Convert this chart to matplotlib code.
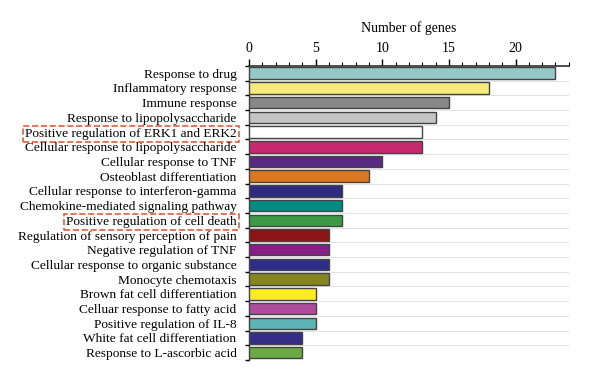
import matplotlib
matplotlib.use("Agg")
import matplotlib.pyplot as plt
import numpy as np
from matplotlib.ticker import MultipleLocator, FixedLocator, NullFormatter

categories = [
    "Response to drug",
    "Inflammatory response",
    "Immune response",
    "Response to lipopolysaccharide",
    "Positive regulation of ERK1 and ERK2",
    "Cellular response to lipopolysaccharide",
    "Cellular response to TNF",
    "Osteoblast differentiation",
    "Cellular response to interferon-gamma",
    "Chemokine-mediated signaling pathway",
    "Positive regulation of cell death",
    "Regulation of sensory perception of pain",
    "Negative regulation of TNF",
    "Cellular response to organic substance",
    "Monocyte chemotaxis",
    "Brown fat cell differentiation",
    "Celluar response to fatty acid",
    "Positive regulation of IL-8",
    "White fat cell differentiation",
    "Response to L-ascorbic acid",
]
values = [23, 18, 15, 14, 13, 13, 10, 9, 7, 7, 7, 6, 6, 6, 6, 5, 5, 5, 4, 4]
colors = ["#96c8c8", "#f5ea7a", "#888888", "#c4c4c4", "#ffffff", "#c8286e",
          "#5a2a82", "#dc7820", "#2e2a80", "#008c84", "#3c9a46", "#8c1414",
          "#861e86", "#2e2e88", "#86861e", "#ffec20", "#b04c9c", "#5cb4b4",
          "#362c8a", "#6aaa44"]
highlighted = ["Positive regulation of ERK1 and ERK2", "Positive regulation of cell death"]
x_ticks = [0, 5, 10, 15, 20]

plt.rcParams['font.family'] = ['Liberation Serif', 'DejaVu Serif']

fig = plt.figure(figsize=(6, 3.83), dpi=100)
ax = fig.add_axes([0.415, 0.06, 0.533, 0.768])

n = len(categories)
y = np.arange(n)
ax.barh(y, values, height=0.78, color=colors, edgecolor="#444444", linewidth=1.0, zorder=3)

ax.set_ylim(n - 0.5, -0.5)
ax.set_xlim(0, 24)

ax.xaxis.tick_top()
ax.xaxis.set_label_position('top')
ax.set_xticks(x_ticks)
ax.xaxis.set_minor_locator(MultipleLocator(1))
ax.set_xlabel("Number of genes", fontsize=10, labelpad=7)
ax.tick_params(axis='x', which='major', length=5, width=1, direction='out', labelsize=10, pad=3)
ax.tick_params(axis='x', which='minor', length=3, width=0.8, direction='out')

ax.set_yticks(y)
ax.set_yticklabels(categories, fontsize=9.6)
ax.tick_params(axis='y', which='major', length=0, pad=9)
ax.yaxis.set_minor_locator(FixedLocator(np.arange(n + 1) - 0.5))
ax.yaxis.set_minor_formatter(NullFormatter())
ax.tick_params(axis='y', which='minor', length=3, width=1, direction='out')
ax.grid(axis='y', which='minor', color='#e4e4e4', linewidth=0.8, zorder=0)

for s in ['right', 'bottom']:
    ax.spines[s].set_visible(False)
ax.spines['top'].set_color('#333333')
ax.spines['left'].set_color('#333333')
ax.spines['top'].set_linewidth(1.2)
ax.spines['left'].set_linewidth(1.0)

for lbl in ax.get_yticklabels():
    if lbl.get_text() in highlighted:
        lbl.set_bbox(dict(boxstyle='square,pad=0.15', fc='none', ec='#e0603a', ls='--', lw=1.2))

fig.savefig("out.png", dpi=100)
